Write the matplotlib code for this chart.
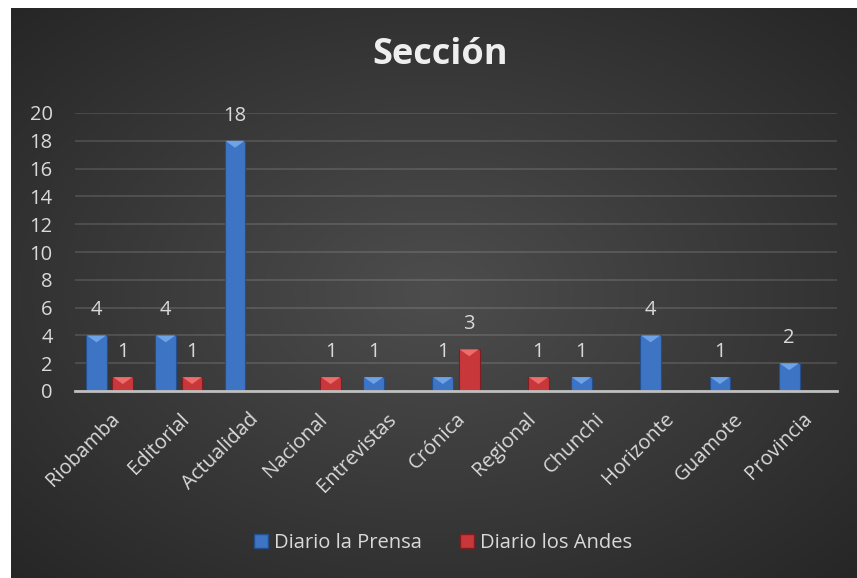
import numpy as np
import matplotlib
matplotlib.use('Agg')
import matplotlib.pyplot as plt
from matplotlib.colors import LinearSegmentedColormap
from matplotlib.patches import Polygon, Patch

plt.rcParams['font.family'] = ['Open Sans', 'DejaVu Sans']

categorias = ['Riobamba', 'Editorial', 'Actualidad', 'Nacional', 'Entrevistas',
              'Crónica', 'Regional', 'Chunchi', 'Horizonte', 'Guamote', 'Provincia']
prensa = [4, 4, 18, 0, 1, 1, 0, 1, 4, 1, 2]
andes = [1, 1, 0, 1, 0, 3, 1, 0, 0, 0, 0]
series_names = ['Diario la Prensa', 'Diario los Andes']
yticks = list(range(0, 21, 2))

txt = '#d9d9d9'
blue, blue_top, blue_edge = '#3d74c4', '#6fa3e8', '#234f8f'
red, red_top, red_edge = '#c8373a', '#ee6c6c', '#7e1e20'

fig = plt.figure(figsize=(8.57, 5.78), dpi=100)
fig.patch.set_facecolor('white')

# dark radial gradient background (chart area)
bg = fig.add_axes([11 / 857, 0, 846 / 857, 570 / 578], zorder=-1)
yy, xx = np.mgrid[0:1:300j, 0:1:450j]
r = np.sqrt(((xx - 0.5) / 0.75) ** 2 + ((yy - 0.5) / 0.75) ** 2)
cmap = LinearSegmentedColormap.from_list('bg', ['#4d4d4d', '#262626'])
bg.imshow(r, cmap=cmap, aspect='auto', extent=[0, 1, 0, 1], origin='lower', vmin=0, vmax=0.95)
bg.axis('off')

ax = fig.add_axes([75 / 857, 1 - 391 / 578, 762 / 857, 278 / 578])
ax.set_facecolor('none')

x = np.arange(len(categorias))
w = 0.3
off = 0.19
b1 = ax.bar(x - off, prensa, w, color=blue, edgecolor=blue_edge, linewidth=0.8, zorder=3)
b2 = ax.bar(x + off, andes, w, color=red, edgecolor=red_edge, linewidth=0.8, zorder=3)

# bevel-like lighter triangle on top of each bar
for bars, top in [(b1, blue_top), (b2, red_top)]:
    for rect in bars:
        h = rect.get_height()
        if h <= 0:
            continue
        x0 = rect.get_x()
        x1 = x0 + rect.get_width()
        d = min(0.5, h * 0.5)
        ax.add_patch(Polygon([[x0 + 0.01, h], [x1 - 0.01, h], [(x0 + x1) / 2, h - d]],
                             closed=True, facecolor=top, edgecolor='none', zorder=4))

# data labels (only non-zero)
for bars, vals in [(b1, prensa), (b2, andes)]:
    for rect, v in zip(bars, vals):
        if v == 0:
            continue
        ax.annotate(str(v), (rect.get_x() + rect.get_width() / 2, v),
                    xytext=(0, 25), textcoords='offset pixels',
                    ha='center', va='center', color=txt, fontsize=14.5)

ax.set_xlim(-0.5, len(categorias) - 0.5)
ax.set_ylim(0, 20)
ax.set_yticks(yticks)
ax.set_xticks(x)
ax.set_xticklabels(categorias, rotation=45, ha='right', rotation_mode='anchor')
ax.tick_params(axis='both', length=0, colors=txt, labelsize=14.5)
ax.tick_params(axis='y', pad=16)
ax.tick_params(axis='x', pad=13)
ax.yaxis.grid(True, color='#ffffff', alpha=0.12, linewidth=1.5, zorder=0)
for s in ['top', 'right', 'left']:
    ax.spines[s].set_visible(False)
ax.spines['bottom'].set_color('#bfbfbf')
ax.spines['bottom'].set_linewidth(2)
ax.spines['bottom'].set_zorder(5)

fig.text(440 / 857, 1 - 55 / 578, 'Sección', ha='center', va='center',
         fontsize=26, fontweight='bold', color='#eeeeee')

handles = [Patch(facecolor=blue, edgecolor=blue_edge), Patch(facecolor=red, edgecolor=red_edge)]
fig.legend(handles, series_names, loc='center', bbox_to_anchor=(443 / 857, 1 - 543 / 578),
           ncol=2, frameon=False, fontsize=14.5, labelcolor=txt,
           handlelength=0.7, handleheight=0.7, handletextpad=0.3, columnspacing=1.9)

fig.savefig('out.png', dpi=100)
